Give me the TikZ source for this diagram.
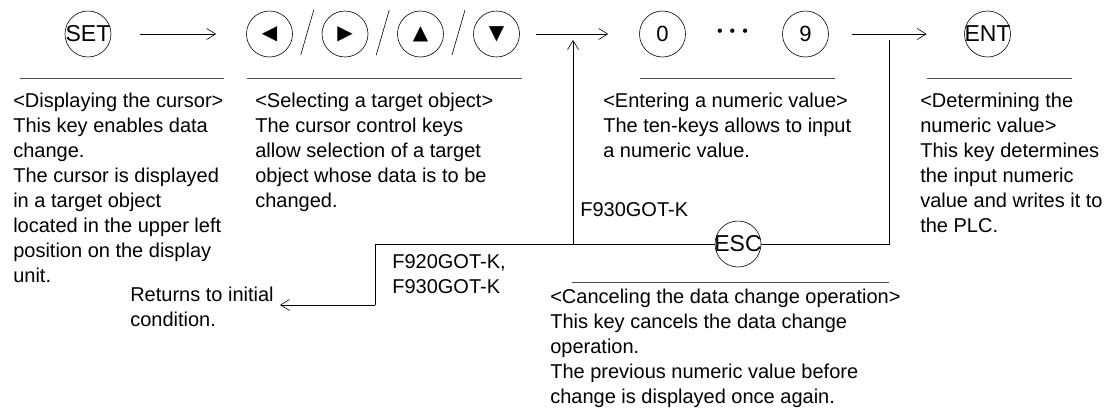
\documentclass[tikz,border=0pt]{standalone}
\usepackage{fontspec}
\setmainfont{Liberation Sans}
\newfontfamily\symfont{DejaVu Sans}
\usetikzlibrary{arrows.meta,calc}

\newcommand\keylabel[1]{\makebox[0pt]{#1}}

\begin{document}
\begin{tikzpicture}[x=1pt,y=-1pt,
		key/.style={draw,circle,minimum size=46pt,inner sep=0pt,font=\fontsize{23}{23}\selectfont},
		digitkey/.style={key,font=\fontsize{22}{22}\selectfont},
		symkey/.style={key,font=\symfont\fontsize{20}{20}\selectfont},
		note/.style={anchor=north west,align=left,inner sep=0pt,font=\fontsize{20}{25}\selectfont},
		rule/.style={draw=black!70,line width=0.9pt},
		flow/.style={-{Straight Barb[length=9pt,width=11pt]}},
		every path/.style={line width=0.6pt}]
	\useasboundingbox (0,0) rectangle (1120,416);
	
	% keys
	\node[key](set) at (88,34){\keylabel{SET}};
	\node[symkey](left) at (269.5,34){\keylabel{◀}};
	\node[symkey](right) at (345,34){\keylabel{▶}};
	\node[symkey](up) at (420.5,34){\keylabel{▲}};
	\node[symkey](down) at (496.5,34){\keylabel{▼}};
	\node[digitkey](zero) at (662.5,34){0};
	\node[inner sep=0pt,font=\fontsize{16}{16}\selectfont](dots) at (732.5,33){•\hspace{7pt}•\hspace{7pt}•};
	\node[digitkey](nine) at (805.5,34){9};
	\node[key](ent) at (987.5,34){\keylabel{ENT}};
	\node[key](esc) at (738,244){\keylabel{ESC}};
	
	% slashes between the cursor keys
	\draw ($(left)!.5!(right)+(-6.5,21)$) -- ++(13,-45);
	\draw ($(right)!.5!(up)+(-6.5,21)$) -- ++(13,-45);
	\draw ($(up)!.5!(down)+(-6.5,21)$) -- ++(13,-45);
	
	\coordinate(rise) at (573,40);
	\coordinate(join) at (573,244);
	\coordinate(drop) at (889,40);
	\coordinate(bend) at (889,244);
	\coordinate(back) at (375,244);
	\coordinate(turn) at (375,305);
	\coordinate(stop) at (280,305);
	
	\draw[flow,shorten <=29pt,shorten >=30pt](set)--(left);
	\draw[flow,shorten <=16pt,shorten >=31pt](down)--(zero);
	\draw[flow,shorten <=23.5pt,shorten >=37.5pt](nine)--(ent);
	\draw[flow](join)--(rise);
	\draw (drop) -- (bend) -- (esc) -- (back) -- (turn);
	\draw[flow](turn)--(stop);
	
	% underlines
	\draw[rule](20,78)--(224,78);
	\draw[rule](247,78)--(522,78);
	\draw[rule](640,78)--(835,78);
	\draw[rule](927,78)--(1072,78);
	\draw[rule](572,282)--(889,282);
	
	% texts
	\node[note](cursor) at (13,93){<Displaying the cursor>\\This key enables data\\change.\\The cursor is displayed\\in a target object\\located in the upper left\\position on the display\\unit.};
	\node[note](select) at (255,93){<Selecting a target object>\\The cursor control keys\\allow selection of a target\\object whose data is to be\\changed.};
	\node[note](enter) at (603,93){<Entering a numeric value>\\The ten-keys allows to input\\a numeric value.};
	\node[note](determine) at (920,93){<Determining the\\numeric value>\\This key determines\\the input numeric\\value and writes it to\\the PLC.};
	\node[note](model) at (580,202){F930GOT-K};
	\node[note](models) at (392,254){F920GOT-K,\\F930GOT-K};
	\node[note](initial) at (130,287){Returns to initial\\condition.};
	\node[note](cancel) at (550,289){<Canceling the data change operation>\\This key cancels the data change\\operation.\\The previous numeric value before\\change is displayed once again.};
\end{tikzpicture}
\end{document}
